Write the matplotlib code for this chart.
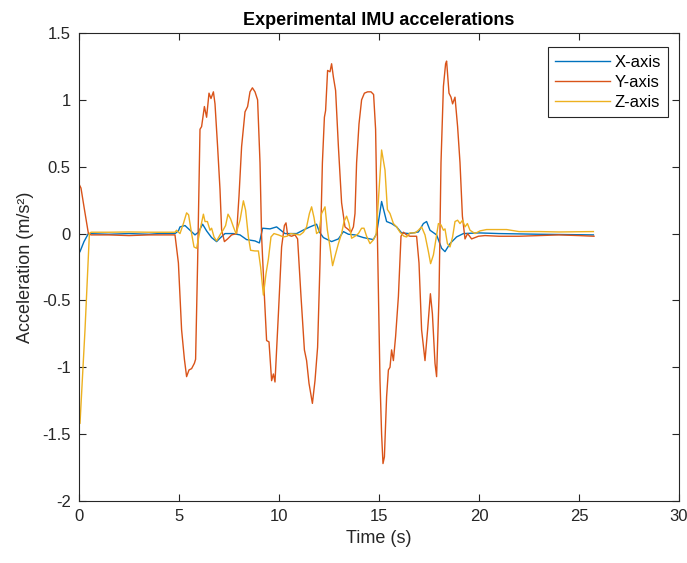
import matplotlib
matplotlib.use("Agg")
import matplotlib.pyplot as plt
from matplotlib.ticker import FuncFormatter

plt.rcParams['font.family'] = ['Liberation Sans', 'DejaVu Sans']

# readings (time in s, acceleration in m/s^2)
x_t = [0, 0.05, 0.25, 0.47, 1.5, 2.5, 3.5, 4.0, 4.8, 4.97, 5.05, 5.3, 5.55, 5.8, 5.97,
       6.18, 6.38, 6.63, 6.88, 7.08, 7.3, 7.72, 8.05, 8.38, 8.8, 9.02, 9.18, 9.55, 9.88,
       10.13, 10.3, 10.55, 10.88, 11.2, 11.55, 11.88, 12.02, 12.22, 12.63, 12.97, 13.22,
       13.47, 13.8, 14.22, 14.72, 14.88, 15.13, 15.38, 15.63, 15.88, 16.13, 16.5, 16.97,
       17.22, 17.38, 17.55, 17.88, 18.13, 18.3, 18.55, 18.88, 19.22, 20, 21, 23, 25.72]
x_v = [-0.145, -0.135, -0.06, 0.0, -0.005, 0.0, -0.005, 0.0, 0.0, 0.02, 0.05, 0.06, 0.025,
       -0.01, 0.01, 0.07, 0.02, -0.03, -0.06, -0.03, 0.0, 0.0, -0.01, -0.045, -0.055, -0.07,
       0.04, 0.035, 0.05, 0.02, 0.0, 0.0, 0.0, 0.025, 0.05, 0.07, 0.012, -0.03, -0.06, -0.04,
       0.015, -0.005, -0.01, -0.03, -0.045, 0.0, 0.24, 0.09, 0.075, 0.05, 0.005, 0.0, 0.012,
       0.075, 0.09, 0.025, -0.01, -0.11, -0.135, -0.075, -0.025, 0.0, 0.005, 0.0, -0.005, -0.01]

y_t = [0, 0.1, 0.25, 0.47, 0.6, 1.5, 2.5, 3.5, 4.8, 4.97, 5.13, 5.27, 5.38, 5.5, 5.63, 5.77,
       5.83, 5.93, 6.05, 6.13, 6.27, 6.38, 6.5, 6.6, 6.72, 6.8, 6.93, 7.05, 7.13, 7.27, 7.43,
       7.63, 7.88, 8.0, 8.13, 8.3, 8.43, 8.55, 8.67, 8.8, 8.93, 9.05, 9.13, 9.27, 9.38, 9.5,
       9.63, 9.72, 9.8, 9.97, 10.13, 10.27, 10.35, 10.43, 10.63, 10.8, 10.93, 11.1, 11.27,
       11.38, 11.5, 11.67, 11.8, 11.93, 12.05, 12.17, 12.27, 12.33, 12.43, 12.55, 12.63,
       12.72, 12.83, 12.97, 13.13, 13.3, 13.47, 13.6, 13.72, 13.8, 13.88, 14.0, 14.13, 14.27,
       14.43, 14.6, 14.73, 14.83, 14.93, 15.05, 15.13, 15.2, 15.27, 15.38, 15.47, 15.55,
       15.63, 15.72, 15.83, 15.97, 16.1, 16.22, 16.38, 16.55, 16.88, 17.0, 17.13, 17.3,
       17.43, 17.57, 17.67, 17.8, 17.88, 18.0, 18.1, 18.22, 18.33, 18.38, 18.5, 18.6, 18.68,
       18.8, 18.93, 19.05, 19.17, 19.3, 19.43, 19.63, 19.97, 20.3, 21, 22, 23, 24, 25, 25.75]
y_v = [0.37, 0.34, 0.2, 0.0, -0.01, -0.01, -0.015, -0.01, -0.01, -0.22, -0.72, -0.94,
       -1.07, -1.02, -1.01, -0.97, -0.94, -0.22, 0.78, 0.80, 0.95, 0.87, 1.05, 1.01, 1.06,
       0.97, 0.65, 0.33, 0.03, -0.06, -0.04, -0.01, 0.0, 0.28, 0.65, 0.91, 0.95, 1.06, 1.09,
       1.06, 1.0, 0.53, -0.02, -0.47, -0.8, -0.81, -1.1, -1.05, -1.11, -0.6, -0.1, 0.06,
       0.08, -0.01, -0.02, -0.01, -0.04, -0.47, -0.87, -0.95, -1.12, -1.27, -1.1, -0.85,
       -0.22, 0.53, 0.87, 0.92, 1.22, 1.21, 1.27, 1.17, 1.07, 0.65, 0.23, 0.05, 0.03, 0.01,
       0.05, 0.15, 0.53, 0.82, 1.0, 1.05, 1.06, 1.06, 1.04, 0.78, -0.1, -1.1, -1.5, -1.72,
       -1.67, -1.22, -1.02, -1.0, -0.87, -0.95, -0.77, -0.47, -0.02, 0.01, -0.01, -0.02,
       -0.02, -0.22, -0.72, -0.95, -0.72, -0.45, -0.6, -0.97, -1.07, -0.47, 0.53, 1.1, 1.27,
       1.29, 1.05, 1.02, 0.97, 1.02, 0.8, 0.53, 0.13, -0.04, 0.0, -0.04, -0.02, -0.015,
       -0.02, -0.02, -0.015, -0.01, -0.015, -0.02]

z_t = [0, 0.05, 0.3, 0.52, 0.6, 1.5, 2.5, 3.5, 4.8, 4.88, 5.05, 5.22, 5.38, 5.48, 5.63,
       5.75, 5.88, 6.05, 6.22, 6.3, 6.42, 6.55, 6.63, 6.75, 6.88, 7.05, 7.22, 7.33, 7.45,
       7.58, 7.72, 7.85, 8.05, 8.22, 8.33, 8.47, 8.58, 8.8, 8.97, 9.08, 9.22, 9.35, 9.47,
       9.6, 9.75, 9.97, 10.22, 10.4, 10.58, 10.8, 11.05, 11.22, 11.38, 11.52, 11.63, 11.75,
       11.88, 12.0, 12.13, 12.3, 12.42, 12.55, 12.68, 12.8, 12.97, 13.13, 13.25, 13.38, 13.5,
       13.63, 13.8, 13.97, 14.13, 14.25, 14.38, 14.55, 14.7, 14.85, 14.97, 15.13, 15.3,
       15.42, 15.55, 15.72, 15.88, 16.05, 16.25, 16.38, 16.55, 16.8, 16.97, 17.13, 17.3,
       17.47, 17.58, 17.72, 17.85, 17.97, 18.1, 18.22, 18.3, 18.42, 18.55, 18.68, 18.8,
       18.93, 19.05, 19.18, 19.3, 19.42, 19.55, 19.8, 20.05, 20.38, 21.38, 22, 23, 24, 25.72]
z_v = [-1.42, -1.42, -0.72, 0.0, 0.01, 0.01, 0.012, 0.01, 0.01, 0.025, 0.0, 0.075, 0.155,
       0.14, 0.0, -0.1, -0.11, 0.025, 0.145, 0.09, 0.09, 0.025, 0.04, -0.025, -0.055, -0.01,
       0.03, 0.06, 0.145, 0.11, 0.05, 0.0, 0.1, 0.245, 0.175, -0.025, -0.125, -0.13, -0.13,
       -0.25, -0.46, -0.3, -0.19, -0.025, 0.0, -0.01, -0.025, -0.02, 0.0, -0.005, -0.01,
       0.01, 0.05, 0.15, 0.2, 0.12, 0.0, 0.015, 0.15, 0.2, 0.025, -0.1, -0.24, -0.17, -0.075,
       0.0, 0.09, 0.13, 0.075, -0.035, -0.02, 0.0, 0.04, 0.04, -0.02, -0.075, -0.05, -0.01,
       0.25, 0.625, 0.475, 0.18, 0.15, 0.075, 0.05, 0.01, -0.02, -0.025, 0.005, 0.005, 0.025,
       0.05, -0.01, -0.135, -0.225, -0.16, -0.04, 0.075, 0.065, 0.025, 0.035, -0.075, -0.1,
       -0.025, 0.09, 0.1, 0.075, 0.1, 0.05, 0.075, 0.025, 0.0, 0.02, 0.03, 0.03, 0.015,
       0.015, 0.012, 0.015]

labels = ['X-axis', 'Y-axis', 'Z-axis']
colors = ['#0072BD', '#D95319', '#EDB120']
y_ticks = [-2, -1.5, -1, -0.5, 0, 0.5, 1, 1.5]
x_ticks = [0, 5, 10, 15, 20, 25, 30]

fig = plt.figure(figsize=(6.87, 5.63), dpi=100)
ax = fig.add_axes([79 / 687, 62 / 563, 600 / 687, 468 / 563])

for t, v, lab, c in zip([x_t, y_t, z_t], [x_v, y_v, z_v], labels, colors):
    ax.plot(t, v, color=c, lw=1.0, label=lab)

ax.set_xlim(0, 30)
ax.set_ylim(-2, 1.5)
ax.set_xticks(x_ticks)
ax.set_yticks(y_ticks)
ax.yaxis.set_major_formatter(FuncFormatter(lambda v, p: '%g' % v))

dark = '#262626'
for s in ax.spines.values():
    s.set_color(dark)
    s.set_linewidth(0.8)
ax.tick_params(direction='in', length=5, width=0.8, colors=dark, labelsize=12,
               top=True, right=True, pad=6)

ax.set_title('Experimental IMU accelerations', fontsize=13, fontweight='bold', pad=6)
ax.set_xlabel('Time (s)', fontsize=13, color=dark)
ax.set_ylabel('Acceleration (m/s²)', fontsize=13, color=dark, labelpad=6)

leg = ax.legend(loc='upper right', bbox_to_anchor=(0.982, 0.970), fontsize=12,
                fancybox=False, framealpha=1, edgecolor=dark, handlelength=3.3,
                handletextpad=0.25, borderaxespad=0, labelspacing=0.3, borderpad=0.45)
leg.get_frame().set_linewidth(0.8)

fig.savefig('out.png', dpi=100)
